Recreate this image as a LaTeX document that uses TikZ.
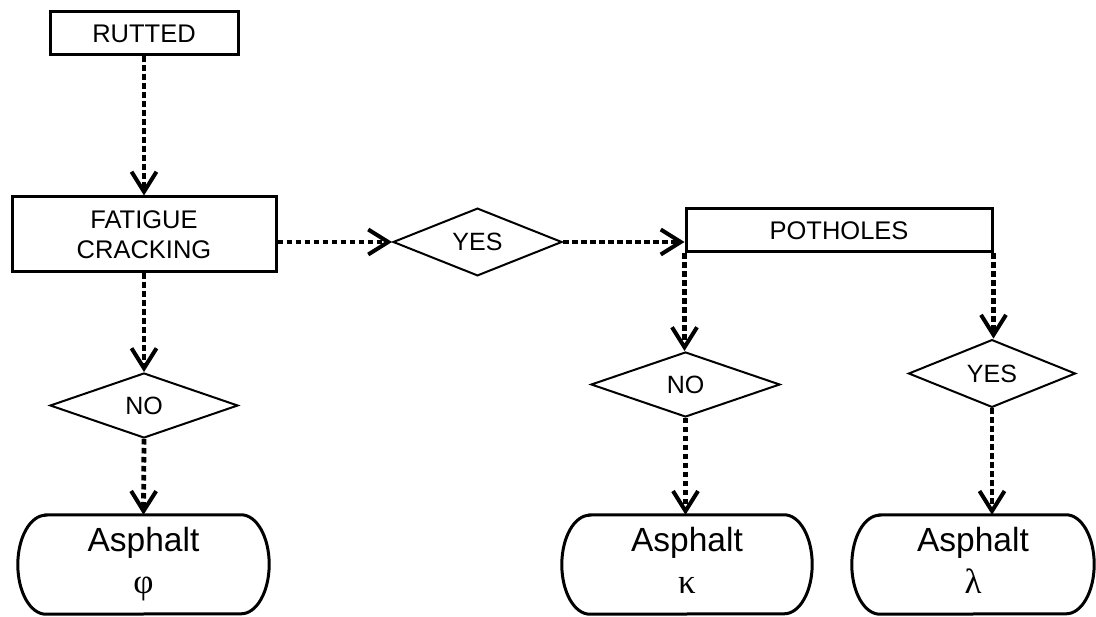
\documentclass[tikz,border=0pt]{standalone}
\usepackage{fontspec}
\setmainfont{Liberation Sans}
\newfontfamily\grk{Liberation Serif}
\usetikzlibrary{shapes.geometric,arrows.meta}

% Greek line under "Asphalt", with a common depth so all three sit alike
\newcommand{\grkline}[1]{{\grk\fontsize{35}{42}\selectfont\vphantom{φλκ}#1}}

\begin{document}
\begin{tikzpicture}[x=1pt,y=-1pt,
  box/.style={draw, line width=3pt, rectangle, inner sep=0pt, align=center,
    font=\fontsize{25.5}{30}\selectfont},
  choice/.style={draw, line width=2pt, diamond, inner sep=0pt,
    font=\fontsize{25}{30}\selectfont},
  terminal/.style={rectangle, inner sep=0pt, minimum width=250pt,
    minimum height=99pt, align=center, font=\fontsize{33.5}{42}\selectfont},
  terminalline/.style={line width=3pt},
  flow/.style={line width=4.8pt, dash pattern=on 5.5pt off 3.5pt,
    -{Straight Barb[length=20pt,width=25pt,line width=4pt]}},
]
\useasboundingbox (0,0) rectangle (1096,617);

% process boxes
\node[box, minimum width=188pt, minimum height=43pt] (rutted) at (144,33.5) {RUTTED};
\node[box, minimum width=264pt, minimum height=75pt] (fatigue) at (144,234.5) {FATIGUE\\CRACKING};
\node[box, minimum width=306pt, minimum height=43pt] (pot) at (839,230.5) {POTHOLES};

% decisions
\node[choice, minimum width=169pt, minimum height=65pt] (yes1) at (477.5,242) {YES};
\node[choice, minimum width=188pt, minimum height=65pt] (no1) at (144,405.5) {NO};
\node[choice, minimum width=189pt, minimum height=65pt] (no2) at (685.5,384.5) {NO};
\node[choice, minimum width=167pt, minimum height=63pt] (yes2) at (992,373.5) {YES};

% outcomes
\node[terminal, minimum width=251pt] (a1) at (143.5,564.5) {Asphalt\\\grkline{φ}};
\node[terminal] (a2) at (687,564.5) {Asphalt\\\grkline{κ}};
\node[terminal, minimum width=242pt] (a3) at (973,564.5) {Asphalt\\\grkline{λ}};

% outlines of the outcome boxes: straight top and bottom, elliptic ends
\foreach \n in {a1,a2,a3}
  \draw[terminalline] ([xshift=28pt]\n.north west) -- ([xshift=-28pt]\n.north east)
    arc[start angle=90, end angle=-90, x radius=28pt, y radius=49.5pt]
    -- ([xshift=28pt]\n.south west)
    arc[start angle=270, end angle=90, x radius=28pt, y radius=49.5pt] -- cycle;

% connectors
\draw[flow] (rutted.south) -- (fatigue.north);
\draw[flow] (fatigue.east |- yes1.west) -- (yes1.west);
\draw[flow] (yes1.east) -- (yes1.east -| pot.west);
\draw[flow] (pot.south west) -- (pot.south west |- no2.north);
\draw[flow] (pot.south east) -- (pot.south east |- yes2.north);
\draw[flow] (fatigue.south) -- (no1.north);
\draw[flow] (no1.south) -- (a1.north);
\draw[flow] (no2.south) -- (no2.south |- a2.north);
\draw[flow] (yes2.south) -- (yes2.south |- a3.north);
\end{tikzpicture}
\end{document}
